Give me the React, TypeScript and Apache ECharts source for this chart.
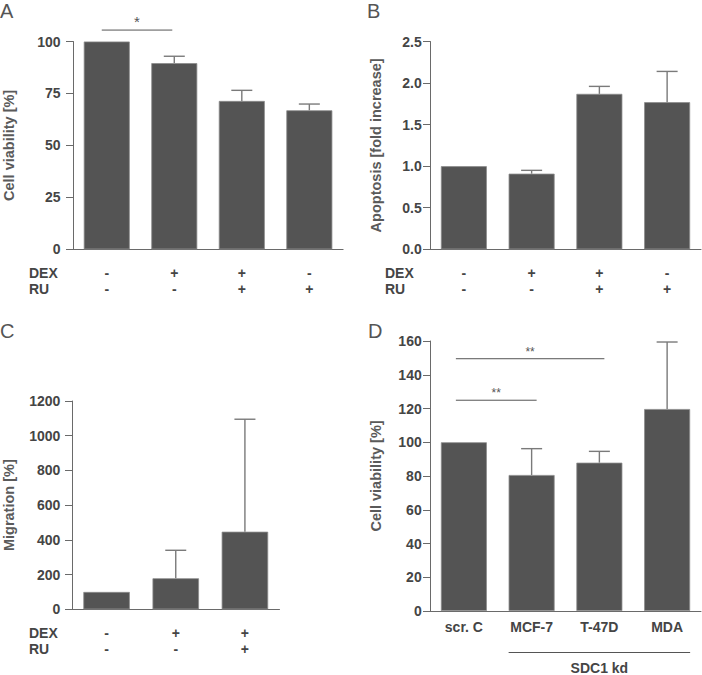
import React, { useEffect, useRef } from 'react';
import * as echarts from 'echarts';

// Panel A: cell viability
const dexA = ['-', '+', '+', '-'];
const ruA = ['-', '-', '+', '+'];
const meanA = [100, 89.6, 71.4, 66.9];
const errA = [0, 3.3, 5.1, 3.0];
const sigA = [{ from: 0, to: 1, y: 105.5, label: '*' }];

// Panel B: apoptosis
const dexB = ['-', '+', '+', '-'];
const ruB = ['-', '-', '+', '+'];
const meanB = [1.0, 0.91, 1.87, 1.77];
const errB = [0, 0.04, 0.09, 0.37];

// Panel C: migration
const dexC = ['-', '+', '+'];
const ruC = ['-', '-', '+'];
const meanC = [100, 179, 447];
const errC = [0, 161, 648];

// Panel D: cell viability, SDC1 knockdown
const catsD = ['scr. C', 'MCF-7', 'T-47D', 'MDA'];
const meanD = [100, 80.6, 87.9, 119.7];
const errD = [0, 15.6, 6.7, 39.7];
const sigD = [
  { from: 0, to: 2, y: 149.5, label: '**' },
  { from: 0, to: 1, y: 124.9, label: '**' },
];
const groupD = [{ from: 1, to: 3, label: 'SDC1 kd' }];

const FONT = 'Liberation Sans, Arial, sans-serif';
const TXT = '#454545';
const AX = '#6a6a6a';
const BAR = '#545454';
const ERR = '#7a7a7a';

function yAxis(gi: number, min: number, max: number, interval: number, name: string, nameGap: number, margin: number, dec = 0) {
  return {
    gridIndex: gi,
    type: 'value',
    min,
    max,
    interval,
    splitLine: { show: false },
    axisLine: { show: true, lineStyle: { color: AX, width: 1 } },
    axisTick: { show: true, length: 7, lineStyle: { color: AX, width: 1 } },
    axisLabel: {
      margin,
      color: TXT,
      fontFamily: FONT,
      fontWeight: 'bold',
      fontSize: 14,
      formatter: (v: number) => v.toFixed(dec),
    },
    name,
    nameLocation: 'middle',
    nameGap,
    nameTextStyle: { color: '#5a5a5a', fontFamily: FONT, fontWeight: 'bold', fontSize: 14.5 },
  };
}

function xAxisSigns(gi: number, dex: string[], ru: string[]) {
  return {
    gridIndex: gi,
    type: 'category',
    data: dex.map((_, i) => 'c' + gi + '_' + i),
    axisLine: { show: true, lineStyle: { color: AX, width: 1 } },
    axisTick: { show: false },
    axisLabel: {
      interval: 0,
      margin: 15,
      lineHeight: 16.6,
      color: TXT,
      fontFamily: FONT,
      fontWeight: 'bold',
      fontSize: 14,
      formatter: (_v: string, i: number) => dex[i] + '\n' + ru[i],
    },
  };
}

function barSeries(gi: number, mean: number[], width: number) {
  return {
    type: 'bar',
    xAxisIndex: gi,
    yAxisIndex: gi,
    barWidth: width,
    data: mean,
    itemStyle: { color: BAR, borderColor: '#8c8c8c', borderWidth: 0.8 },
    z: 2,
  };
}

function errSeries(gi: number, mean: number[], err: number[]) {
  return {
    type: 'custom',
    xAxisIndex: gi,
    yAxisIndex: gi,
    z: 3,
    encode: { x: 0, y: 1 },
    data: mean.map((m, i) => [i, m, m + err[i]]),
    renderItem: (_p: any, api: any) => {
      const i = api.value(0);
      const m = api.value(1);
      const u = api.value(2);
      if (!(u > m)) return { type: 'group', children: [] };
      const p0 = api.coord([i, m]);
      const p1 = api.coord([i, u]);
      const st = { stroke: ERR, lineWidth: 1.4 };
      return {
        type: 'group',
        children: [
          { type: 'line', shape: { x1: p0[0], y1: p0[1], x2: p1[0], y2: p1[1] }, style: st },
          { type: 'line', shape: { x1: p1[0] - 10.5, y1: p1[1], x2: p1[0] + 10.5, y2: p1[1] }, style: st },
        ],
      };
    },
  };
}

function sigSeries(gi: number, sig: { from: number; to: number; y: number; label: string }[], dx0: number, dx1: number, fs: number) {
  return {
    type: 'custom',
    xAxisIndex: gi,
    yAxisIndex: gi,
    z: 4,
    clip: false,
    encode: { x: [0, 1], y: 2 },
    data: sig.map((s) => [s.from, s.to, s.y]),
    renderItem: (p: any, api: any) => {
      const a = api.coord([api.value(0), api.value(2)]);
      const b = api.coord([api.value(1), api.value(2)]);
      const x0 = a[0] + dx0;
      const x1 = b[0] + dx1;
      return {
        type: 'group',
        children: [
          { type: 'line', shape: { x1: x0, y1: a[1], x2: x1, y2: a[1] }, style: { stroke: '#555', lineWidth: 1 } },
          {
            type: 'text',
            style: {
              text: sig[p.dataIndex].label,
              x: (x0 + x1) / 2,
              y: a[1] - 1,
              align: 'center',
              verticalAlign: 'bottom',
              fill: '#555',
              font: `${fs}px ${FONT}`,
            },
          },
        ],
      };
    },
  };
}

function groupSeries(gi: number, grp: { from: number; to: number; label: string }[], half: number) {
  return {
    type: 'custom',
    xAxisIndex: gi,
    yAxisIndex: gi,
    z: 4,
    clip: false,
    encode: { x: [0, 1], y: 2 },
    data: grp.map((g) => [g.from, g.to, 0]),
    renderItem: (p: any, api: any) => {
      const a = api.coord([api.value(0), 0]);
      const b = api.coord([api.value(1), 0]);
      const y = a[1] + 41.5;
      return {
        type: 'group',
        children: [
          { type: 'line', shape: { x1: a[0] - half, y1: y, x2: b[0] + half, y2: y }, style: { stroke: '#555', lineWidth: 1.2 } },
          {
            type: 'text',
            style: {
              text: grp[p.dataIndex].label,
              x: (a[0] + b[0]) / 2,
              y: 675,
              align: 'center',
              verticalAlign: 'bottom',
              fill: TXT,
              font: `bold 14px ${FONT}`,
            },
          },
        ],
      };
    },
  };
}

function letter(t: string, x: number, y: number) {
  return {
    type: 'text',
    x,
    y,
    style: { text: t, fill: '#555', font: `20px ${FONT}`, align: 'left', verticalAlign: 'top' },
  };
}

function rowLabel(t: string, x: number, y: number) {
  return {
    type: 'text',
    x,
    y,
    style: { text: t, fill: TXT, font: `bold 14px ${FONT}`, align: 'left', verticalAlign: 'middle' },
  };
}

export default function App() {
  const ref = useRef<HTMLDivElement>(null);
  useEffect(() => {
    if (!ref.current) return;
    const chart = echarts.init(ref.current, undefined, { renderer: 'svg' });
    const option: any = {
      animation: false,
      backgroundColor: '#ffffff',
      grid: [
        { left: 72.6, top: 41.5, width: 270.5, height: 207.8 },
        { left: 430, top: 41.5, width: 271, height: 207.8 },
        { left: 71, top: 401, width: 208.5, height: 208.3 },
        { left: 430, top: 341, width: 271, height: 270 },
      ],
      xAxis: [
        xAxisSigns(0, dexA, ruA),
        xAxisSigns(1, dexB, ruB),
        xAxisSigns(2, dexC, ruC),
        {
          gridIndex: 3,
          type: 'category',
          data: catsD,
          axisLine: { show: true, lineStyle: { color: AX, width: 1 } },
          axisTick: { show: false },
          axisLabel: { interval: 0, margin: 9, color: TXT, fontFamily: FONT, fontWeight: 'bold', fontSize: 14 },
        },
      ],
      yAxis: [
        yAxis(0, 0, 100, 25, 'Cell viability [%]', 57, 12.5),
        yAxis(1, 0, 2.5, 0.5, 'Apoptosis [fold increase]', 47, 8.3, 1),
        yAxis(2, 0, 1200, 200, 'Migration [%]', 56, 11.7),
        yAxis(3, 0, 160, 20, 'Cell viability [%]', 47, 8.3),
      ],
      series: [
        barSeries(0, meanA, 46),
        errSeries(0, meanA, errA),
        sigSeries(0, sigA, -5, -2, 15),
        barSeries(1, meanB, 46),
        errSeries(1, meanB, errB),
        barSeries(2, meanC, 46.5),
        errSeries(2, meanC, errC),
        barSeries(3, meanD, 46),
        errSeries(3, meanD, errD),
        sigSeries(3, sigD, -8, 5, 12),
        groupSeries(3, groupD, 23),
      ],
      graphic: [
        letter('A', 0, 1),
        letter('B', 367, 1),
        letter('C', 0, 321),
        letter('D', 368, 321),
        rowLabel('DEX', 29, 272.7),
        rowLabel('RU', 29, 289.3),
        rowLabel('DEX', 385, 272.7),
        rowLabel('RU', 385, 289.3),
        rowLabel('DEX', 29, 632.7),
        rowLabel('RU', 29, 649.3),
      ],
    };
    chart.setOption(option);
    return () => chart.dispose();
  }, []);
  return (
    <div
      ref={ref}
      style={{ position: 'fixed', left: 0, top: 0, width: 702, height: 675, background: '#fff' }}
    />
  );
}
